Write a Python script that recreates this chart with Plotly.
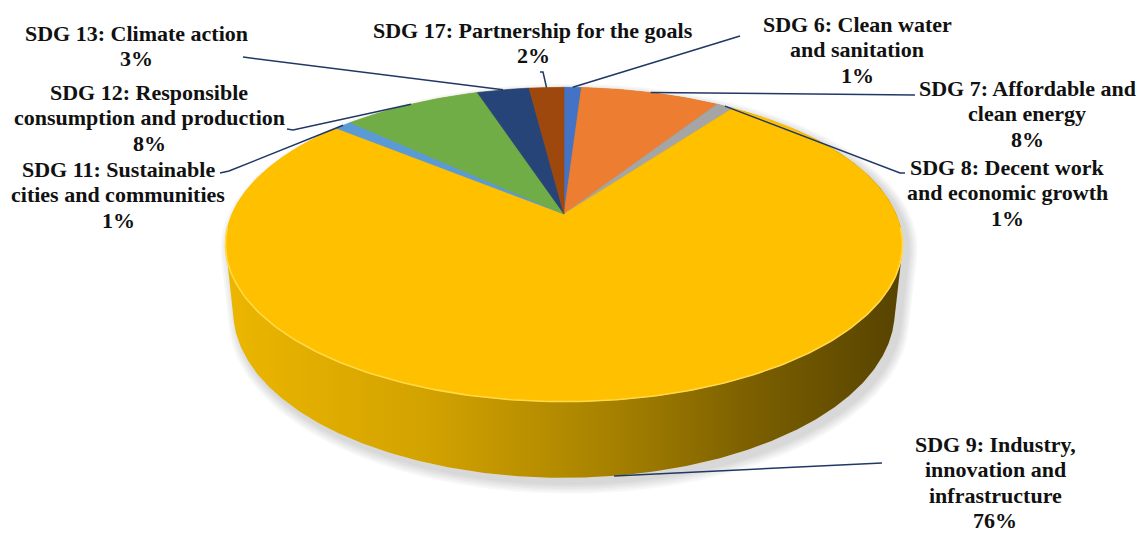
import numpy as np
import plotly.graph_objects as go

# ---- data -------------------------------------------------------------
goal_names = [
    ["SDG 6: Clean water", "and sanitation"],
    ["SDG 7: Affordable and", "clean energy"],
    ["SDG 8: Decent work", "and economic growth"],
    ["SDG 9: Industry,", "innovation and", "infrastructure"],
    ["SDG 11: Sustainable", "cities and communities"],
    ["SDG 12: Responsible", "consumption and production"],
    ["SDG 13: Climate action"],
    ["SDG 17: Partnership for the goals"],
]
shares = [1, 8, 1, 76, 1, 8, 3, 2]
slice_colors = ["#4472C4", "#ED7D31", "#A5A5A5", "#FFC000",
                "#5B9BD5", "#70AD47", "#264478", "#9E480E"]

# label block: centre x and first-line centre y (page pixels)
label_pos = [(857, 24), (1027, 88), (1007, 167), (995, 444),
             (118, 169), (149, 92), (136, 33), (533, 30)]
LINE_STEP = 25.5
leader_start = [
    [(740, 36)],
    [(915, 95)],
    [(905, 173), (900, 173)],
    [(882, 463)],
    [(220, 173), (229, 171)],
    [(287, 129), (293, 130)],
    [(243, 57)],
    [(540, 72), (543, 72)],
]

# ---- 3-D perspective projection of the pie disc -------------------------
W, H = 1142, 534
TILT = np.radians(27.1)
DIST = 4.598
FOCAL = 1527.0
APEX = (564.0, 214.0)
THICK = 0.228


def project(ang_deg, r=1.0, h=0.0):
    a = np.radians(np.asarray(ang_deg, dtype=float))
    u = r * np.sin(a)
    w = r * np.cos(a)
    c, s = np.cos(TILT), np.sin(TILT)
    z = w * c - h * s + DIST
    x = APEX[0] + FOCAL * u / z
    y = APEX[1] - FOCAL * (w * s + h * c) / z
    return x, y


def convex_hull(px, py):
    pts = sorted(set(zip(np.round(px, 3), np.round(py, 3))))

    def cross(o, a, b):
        return (a[0] - o[0]) * (b[1] - o[1]) - (a[1] - o[1]) * (b[0] - o[0])

    lower, upper = [], []
    for p in pts:
        while len(lower) >= 2 and cross(lower[-2], lower[-1], p) <= 0:
            lower.pop()
        lower.append(p)
    for p in reversed(pts):
        while len(upper) >= 2 and cross(upper[-2], upper[-1], p) <= 0:
            upper.pop()
        upper.append(p)
    hull = lower[:-1] + upper[:-1]
    hx = [p[0] for p in hull] + [hull[0][0]]
    hy = [p[1] for p in hull] + [hull[0][1]]
    return hx, hy


fig = go.Figure()
ring = np.linspace(0, 360, 721)
tx, ty = project(ring, h=0.0)
bx, by = project(ring, h=-THICK)

# soft drop shadow, offset down and to the right
for k in range(5):
    grow = 2.0 + 2.0 * k
    sx, sy = convex_hull(np.concatenate([tx, bx]) + 5, np.concatenate([ty, by]) + 5)
    sx = np.asarray(sx)
    sy = np.asarray(sy)
    cx, cy = np.mean(sx), np.mean(sy)
    sx = cx + (sx - cx) * (1 + grow / 340.0)
    sy = cy + (sy - cy) * (1 + grow / 200.0)
    fig.add_trace(go.Scatter(
        x=sx, y=sy, mode="lines", fill="toself",
        fillcolor="rgba(0,0,0,0.03)", line=dict(width=0),
        hoverinfo="skip", showlegend=False))

# side wall of the cylinder (silhouette of top + bottom rims)
hx, hy = convex_hull(np.concatenate([tx, bx]), np.concatenate([ty, by]))
fig.add_trace(go.Scatter(
    x=hx, y=hy, mode="lines", fill="toself",
    fillgradient=dict(type="horizontal", colorscale=[
        [0.0, "#ECB600"], [0.3, "#D2A200"], [0.55, "#AA8400"],
        [0.8, "#775C00"], [1.0, "#564300"]]),
    line=dict(width=0), hoverinfo="skip", showlegend=False))

# top face slices
bounds = np.concatenate([[0], np.cumsum(shares)]) / sum(shares) * 360.0
for i, col in enumerate(slice_colors):
    a0, a1 = bounds[i], bounds[i + 1]
    arc = np.linspace(a0, a1, max(4, int((a1 - a0) * 2)))
    ax_, ay_ = project(arc)
    xs = np.concatenate([[APEX[0]], ax_, [APEX[0]]])
    ys = np.concatenate([[APEX[1]], ay_, [APEX[1]]])
    fig.add_trace(go.Scatter(
        x=xs, y=ys, mode="lines", fill="toself", fillcolor=col,
        line=dict(color=col, width=0.6), hoverinfo="skip",
        showlegend=False))

# light rim along the front edge of the top face
front = np.linspace(95, 265, 200)
rx, ry = project(front)
fig.add_trace(go.Scatter(
    x=rx, y=ry, mode="lines", line=dict(color="#FFD94A", width=1.6),
    hoverinfo="skip", showlegend=False))

# leader lines from each label to its slice
for i in range(len(shares)):
    mid = (bounds[i] + bounds[i + 1]) / 2.0
    if 100 < mid < 260:
        ex, ey = project(mid, h=-THICK)
    else:
        ex, ey = project(mid)
    pts = leader_start[i] + [(float(ex), float(ey))]
    fig.add_trace(go.Scatter(
        x=[p[0] for p in pts], y=[p[1] for p in pts], mode="lines",
        line=dict(color="#1F3864", width=1.5), hoverinfo="skip",
        showlegend=False))

# labels, one annotation per text line
label_font = dict(family="Liberation Serif, Times New Roman, serif",
                  size=22, color="#111111")
for lines, pct, (lx, ly) in zip(goal_names, shares, label_pos):
    for j, txt in enumerate(lines + [f"{pct}%"]):
        fig.add_annotation(
            x=lx, y=ly + j * LINE_STEP, xref="x", yref="y",
            text=f"<b>{txt}</b>", showarrow=False, align="center",
            xanchor="center", yanchor="middle", font=label_font)

fig.update_layout(
    width=W, height=H, margin=dict(l=0, r=0, t=0, b=0),
    paper_bgcolor="white", plot_bgcolor="white", showlegend=False,
    xaxis=dict(range=[0, W], visible=False, fixedrange=True),
    yaxis=dict(range=[H, 0], visible=False, fixedrange=True),
)

fig.write_html("out.html")
